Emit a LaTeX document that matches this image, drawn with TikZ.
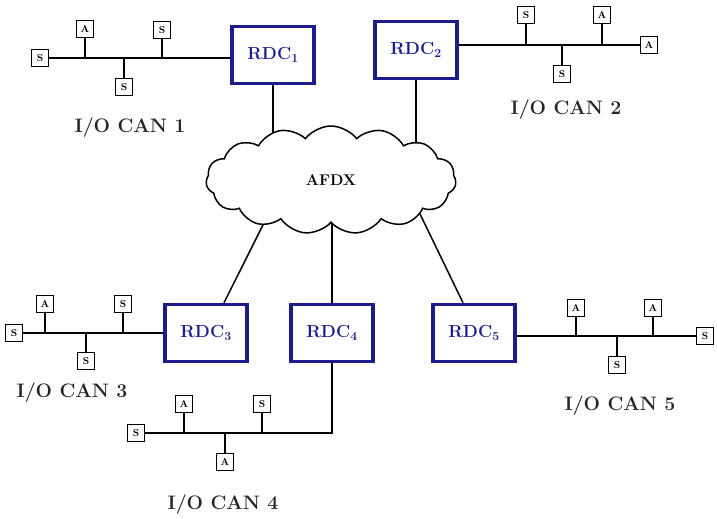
\documentclass[tikz,border=0pt]{standalone}
\usetikzlibrary{shapes.symbols,backgrounds}
\definecolor{rdcblue}{RGB}{28,28,140}
\begin{document}
\begin{tikzpicture}
	[x=1pt, y=-1pt,
	 rdc/.style={draw=rdcblue, line width=3.5pt, minimum width=82pt, minimum height=57pt,
	   inner sep=0pt, text=rdcblue, font=\fontsize{17.5}{19}\selectfont\bfseries},
	 dev/.style={draw, line width=1.3pt, minimum size=17pt, inner sep=0pt, fill=white,
	   font=\fontsize{10}{10}\selectfont\bfseries},
	 bus/.style={line width=1.5pt},
	 canlabel/.style={font=\fontsize{19.5}{21}\selectfont\bfseries, text=black!85}]

	\useasboundingbox (0,0) rectangle (717,519);

	% AFDX network and the RDCs
	\begin{scope}
		\node[cloud, draw, line width=1.5pt, fill=white, cloud puffs=15, cloud puff arc=105,
		      aspect=2.1, minimum width=250pt, minimum height=108pt, inner sep=0pt,
		      font=\fontsize{15.5}{17}\selectfont\bfseries] (afdx) at (331,180) {AFDX};

		\node[rdc] (rdc1) at (273,55) {RDC\textsubscript{1}};
		\node[rdc] (rdc2) at (416,50) {RDC\textsubscript{2}};
		\node[rdc] (rdc3) at (206,333) {RDC\textsubscript{3}};
		\node[rdc] (rdc4) at (332,333) {RDC\textsubscript{4}};
		\node[rdc] (rdc5) at (474,333) {RDC\textsubscript{5}};

		\coordinate (afdx3) at (284,183);
		\coordinate (afdx5) at (405,183);

		% links, hidden behind the cloud
		\begin{pgfonlayer}{background}
			\draw[bus] (rdc1.south) -- (rdc1.south |- afdx.center);
			\draw[bus] (rdc2.south) -- (rdc2.south |- afdx.center);
			\draw[bus] ([xshift=18pt]rdc3.north) -- (afdx3);
			\draw[bus] (rdc4.north) -- (rdc4.north |- afdx.center);
			\draw[bus] ([xshift=-11pt]rdc5.north) -- (afdx5);
		\end{pgfonlayer}
	\end{scope}

	% I/O CAN 1
	\begin{scope}
		\node[dev] (can1end) at (40,58) {S};
		\draw[bus] (can1end) -- (can1end -| rdc1.west);
		\foreach \i/\t/\x/\y in {1/A/85/29, 2/S/124/87, 3/S/162/30} {
			\node[dev] (can1dev\i) at (\x,\y) {\t};
			\draw[bus] (can1dev\i) -- (can1dev\i |- can1end);
		}
		\node[canlabel] (can1label) at (130,128) {I/O CAN 1};
	\end{scope}

	% I/O CAN 2
	\begin{scope}
		\node[dev] (can2end) at (649,45) {A};
		\draw[bus] (can2end) -- (can2end -| rdc2.east);
		\foreach \i/\t/\x/\y in {1/S/526/15, 2/S/562/74, 3/A/602/15} {
			\node[dev] (can2dev\i) at (\x,\y) {\t};
			\draw[bus] (can2dev\i) -- (can2dev\i |- can2end);
		}
		\node[canlabel] (can2label) at (566,110) {I/O CAN 2};
	\end{scope}

	% I/O CAN 3
	\begin{scope}
		\node[dev] (can3end) at (14,333) {S};
		\draw[bus] (can3end) -- (can3end -| rdc3.west);
		\foreach \i/\t/\x/\y in {1/A/45/304, 2/S/86/361, 3/S/123/304} {
			\node[dev] (can3dev\i) at (\x,\y) {\t};
			\draw[bus] (can3dev\i) -- (can3dev\i |- can3end);
		}
		\node[canlabel] (can3label) at (72,393) {I/O CAN 3};
	\end{scope}

	% I/O CAN 4
	\begin{scope}
		\node[dev] (can4end) at (136,433) {S};
		\draw[bus] (rdc4.south) |- (can4end);
		\foreach \i/\t/\x/\y in {1/A/184/404, 2/A/225/462, 3/S/262/404} {
			\node[dev] (can4dev\i) at (\x,\y) {\t};
			\draw[bus] (can4dev\i) -- (can4dev\i |- can4end);
		}
		\node[canlabel] (can4label) at (223,505) {I/O CAN 4};
	\end{scope}

	% I/O CAN 5
	\begin{scope}
		\node[dev] (can5end) at (705,336) {S};
		\draw[bus] (can5end) -- (can5end -| rdc5.east);
		\foreach \i/\t/\x/\y in {1/A/576/308, 2/S/617/365, 3/A/653/308} {
			\node[dev] (can5dev\i) at (\x,\y) {\t};
			\draw[bus] (can5dev\i) -- (can5dev\i |- can5end);
		}
		\node[canlabel] (can5label) at (620,406) {I/O CAN 5};
	\end{scope}

\end{tikzpicture}
\end{document}
